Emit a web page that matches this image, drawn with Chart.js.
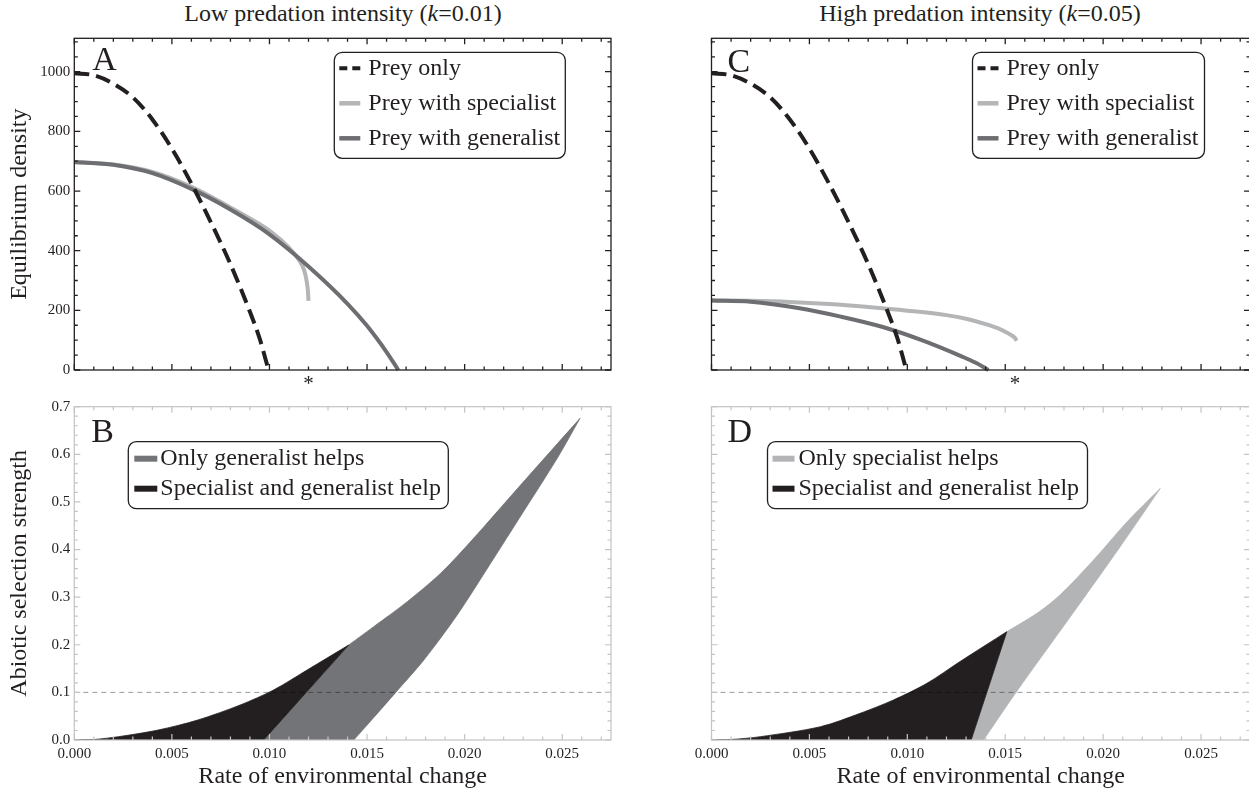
<!DOCTYPE html>
<html>
<head>
<meta charset="utf-8">
<script src="https://cdn.jsdelivr.net/npm/chart.js@4.4.1/dist/chart.umd.min.js"></script>
<style>
html, body { margin: 0; padding: 0; background: #fff; overflow: hidden; }
#page { position: relative; width: 1249px; height: 793px; }
.panel { position: absolute; }
.title { position: absolute; top: -2px; width: 400px; font: 24px 'Liberation Serif', serif; line-height: 30px; color: #231f20; text-align: center; white-space: nowrap; }
</style>
</head>
<body>
<div id="page">
  <div class="title" style="left:143px">Low predation intensity (<i>k</i>=0.01)</div>
  <div class="title" style="left:780px">High predation intensity (<i>k</i>=0.05)</div>
  <div class="panel" style="left:0;top:0;width:620px;height:390px"><canvas id="chartA"></canvas></div>
  <div class="panel" style="left:0;top:390px;width:620px;height:403px"><canvas id="chartB"></canvas></div>
  <div class="panel" style="left:620px;top:0;width:630px;height:390px"><canvas id="chartC"></canvas></div>
  <div class="panel" style="left:620px;top:390px;width:630px;height:403px"><canvas id="chartD"></canvas></div>
</div>
<script>
// Axes
const rateMax = 0.0275;
const densityMax = 1112;
const selectionMax = 0.7;
const rateTicks = [0, 0.005, 0.01, 0.015, 0.02, 0.025];
const densityTicks = [0, 200, 400, 600, 800, 1000];
const selectionTicks = [0, 0.1, 0.2, 0.3, 0.4, 0.5, 0.6, 0.7];
// rate marked with * under the top panels
const markedRateLow = 0.012;
const markedRateHigh = 0.0155;

// Equilibrium density, prey alone (same in A and C)
const preyOnlyRate    = [0, 0.001, 0.002, 0.003, 0.004, 0.005, 0.006, 0.007, 0.008, 0.009, 0.0095, 0.00995];
const preyOnlyDensity = [995, 988, 960, 914, 840, 742, 625, 495, 355, 195, 105, 0];

// A : k = 0.01
const genRateLow     = [0, 0.002, 0.004, 0.006, 0.008, 0.010, 0.012, 0.014, 0.015, 0.016, 0.0166];
const genDensityLow  = [697, 688, 660, 607, 538, 455, 347, 222, 148, 60, 0];
const specRateLow    = [0, 0.002, 0.004, 0.006, 0.008, 0.009, 0.010, 0.011, 0.0115, 0.0118, 0.0119, 0.01197, 0.012];
const specDensityLow = [697, 689, 664, 614, 545, 508, 467, 410, 370, 330, 300, 265, 232];

// C : k = 0.05
const genRateHigh     = [0, 0.002, 0.0045, 0.0066, 0.0087, 0.0107, 0.0128, 0.0135, 0.01414];
const genDensityHigh  = [233, 229, 207, 179, 145, 101, 45, 24, 0];
const specRateHigh    = [0, 0.002, 0.004, 0.006, 0.008, 0.010, 0.012, 0.013, 0.014, 0.0147, 0.0152, 0.0155, 0.01558];
const specDensityHigh = [234, 232, 228, 221, 211, 199, 184, 172, 154, 138, 121, 107, 98];

// B : outline edges of the two regions (rate / selection strength)
const upperRateLow    = [0, 0.001, 0.00227, 0.0043, 0.00633, 0.0085, 0.01021, 0.01193, 0.01406,
                         0.01534, 0.01706, 0.01877, 0.02047, 0.02219, 0.02405, 0.02591];
const upperSelLow     = [0, 0.001, 0.007, 0.021, 0.042, 0.0735, 0.105, 0.147, 0.1995,
                         0.238, 0.2905, 0.35, 0.424, 0.504, 0.59, 0.6755];
const dividerRateLow  = [0.01406, 0.0097];
const dividerSelLow   = [0.1995, 0];
const genLowerRateLow = [0.02591, 0.02475, 0.02296, 0.02133, 0.01962, 0.01791, 0.01646, 0.01534, 0.01432];
const genLowerSelLow  = [0.6755, 0.592, 0.476, 0.371, 0.2625, 0.168, 0.0994, 0.047, 0];
const bothBaseRateLow = [0.0097, 0];
const genBaseRateLow  = [0.01432, 0.0097];

// D : outline edges
const upperRateHigh     = [0, 0.001, 0.0025, 0.00557, 0.00759, 0.00929, 0.011, 0.0127, 0.01508,
                           0.01662, 0.01781, 0.01951, 0.02122, 0.02292];
const upperSelHigh      = [0, 0.001, 0.007, 0.028, 0.056, 0.084, 0.119, 0.165, 0.2275,
                           0.266, 0.305, 0.378, 0.458, 0.5285];
const dividerRateHigh   = [0.01508, 0.01326];
const dividerSelHigh    = [0.2275, 0];
const specLowerRateHigh = [0.02292, 0.02087, 0.01845, 0.01555, 0.01389];
const specLowerSelHigh  = [0.5285, 0.406, 0.266, 0.1, 0];
const bothBaseRateHigh  = [0.01326, 0];
const specBaseRateHigh  = [0.01389, 0.01326];

const baseSel = [0, 0];
const thresholdSel = 0.1;

// Colours
const INK = '#231f20';
const GEN = '#6d6e71';
const SPEC = '#b4b5b7';
const GEN_FILL = '#737477';
const SPEC_FILL = '#b3b4b6';
const FRAME_LIGHT = '#c4c4c4';
const SERIF = "'Liberation Serif', 'Times New Roman', serif";

const pts = (xs, ys) => xs.map((x, i) => ({x: x, y: ys[i]}));

// region outlines: edges joined end to start, corners stay sharp
const bothHelpLow = [
    ...pts(upperRateLow, upperSelLow).slice(0, 9),
    ...pts(dividerRateLow, dividerSelLow),
    ...pts(bothBaseRateLow, baseSel)
];
const genHelpLow = [
    ...pts(dividerRateLow, dividerSelLow).reverse(),
    ...pts(upperRateLow, upperSelLow).slice(8),
    ...pts(genLowerRateLow, genLowerSelLow),
    ...pts(genBaseRateLow, baseSel)
];
const bothHelpHigh = [
    ...pts(upperRateHigh, upperSelHigh).slice(0, 9),
    ...pts(dividerRateHigh, dividerSelHigh),
    ...pts(bothBaseRateHigh, baseSel)
];
const specHelpHigh = [
    ...pts(dividerRateHigh, dividerSelHigh).reverse(),
    ...pts(upperRateHigh, upperSelHigh).slice(8),
    ...pts(specLowerRateHigh, specLowerSelHigh),
    ...pts(specBaseRateHigh, baseSel)
];

// frame with inward ticks, like the original plots
const framePlugin = {
    id: 'frame',
    afterDatasetsDraw(chart, args, o) {
        const {ctx, chartArea: a, scales} = chart;
        const x = scales.x, y = scales.y;
        ctx.save();
        ctx.strokeStyle = o.color;
        ctx.lineWidth = o.width;
        ctx.beginPath();
        const nx = Math.round(x.max / o.xMinor);
        for (let i = 0; i <= nx; i++) {
            const px = x.getPixelForValue(i * o.xMinor);
            const len = i % o.xEvery === 0 ? o.major : o.minor;
            ctx.moveTo(px, a.bottom); ctx.lineTo(px, a.bottom - len);
            ctx.moveTo(px, a.top); ctx.lineTo(px, a.top + len);
        }
        const ny = Math.floor(y.max / o.yMinor + 1e-6);
        for (let i = 0; i <= ny; i++) {
            const py = y.getPixelForValue(i * o.yMinor);
            const len = i % o.yEvery === 0 ? o.major : o.minor;
            ctx.moveTo(a.left, py); ctx.lineTo(a.left + len, py);
            ctx.moveTo(a.right, py); ctx.lineTo(a.right - len, py);
        }
        ctx.stroke();
        ctx.strokeRect(a.left, a.top, a.right - a.left, a.bottom - a.top);
        ctx.restore();
    }
};

// panel letter and boxed legend
const decorPlugin = {
    id: 'decor',
    afterDraw(chart, args, o) {
        const {ctx, chartArea: a} = chart;
        ctx.save();
        ctx.fillStyle = INK;
        ctx.font = '34px ' + SERIF;
        ctx.textBaseline = 'alphabetic';
        ctx.fillText(o.letter, a.left + o.lx, a.top + o.ly);

        const bx = a.left + o.bx, by = a.top + o.by;
        ctx.beginPath();
        ctx.roundRect(bx, by, o.bw, o.bh, 8);
        ctx.fillStyle = '#fff';
        ctx.fill();
        ctx.lineWidth = 1.3;
        ctx.strokeStyle = INK;
        ctx.stroke();

        ctx.font = '24px ' + SERIF;
        ctx.textBaseline = 'middle';
        o.rows.forEach((r, i) => {
            const ry = by + o.ry0 + i * o.rowGap;
            ctx.beginPath();
            ctx.setLineDash(r.dash ? [8, 5] : []);
            ctx.lineWidth = r.lw;
            ctx.strokeStyle = r.color;
            ctx.moveTo(bx + o.sx0, ry);
            ctx.lineTo(bx + o.sx1, ry);
            ctx.stroke();
            ctx.setLineDash([]);
            ctx.fillStyle = INK;
            ctx.fillText(r.text, bx + o.tx, ry);
        });
        ctx.restore();
    }
};

function curve(data, color, extra) {
    return Object.assign({
        data: data, showLine: true, pointRadius: 0, borderColor: color,
        borderWidth: 4, fill: false, cubicInterpolationMode: 'monotone', clip: 5
    }, extra || {});
}

function area(data, color) {
    return {
        data: data, showLine: true, pointRadius: 0, tension: 0.3,
        borderColor: color, borderWidth: 0.8, backgroundColor: color, fill: 'shape'
    };
}

function thresholdLine() {
    return {
        data: pts([0, rateMax], [thresholdSel, thresholdSel]), showLine: true, pointRadius: 0,
        borderColor: 'rgba(0,0,0,0.4)', borderWidth: 1, borderDash: [5, 4], fill: false
    };
}

function makeChart(id, cfg) {
    const tickFont = {family: SERIF, size: 15};
    const xTicks = cfg.bottom ? rateTicks : [cfg.mark];
    return new Chart(document.getElementById(id), {
        type: 'scatter',
        data: {datasets: cfg.datasets},
        options: {
            responsive: true,
            maintainAspectRatio: false,
            animation: false,
            events: [],
            layout: {padding: cfg.padding},
            scales: {
                x: {
                    type: 'linear', min: 0, max: rateMax,
                    grid: {display: false, drawTicks: false}, border: {display: false},
                    afterBuildTicks: s => { s.ticks = xTicks.map(v => ({value: v})); },
                    afterFit: s => { s.height = cfg.xHeight; },
                    ticks: {
                        color: INK, font: cfg.bottom ? tickFont : {family: SERIF, size: 21},
                        padding: cfg.bottom ? 5 : 2, maxRotation: 0, autoSkip: false,
                        callback: v => cfg.bottom ? v.toFixed(3) : '*'
                    },
                    title: {
                        display: cfg.bottom, text: 'Rate of environmental change', color: INK,
                        font: {family: SERIF, size: 24, lineHeight: 1}, padding: {top: 0, bottom: 4}
                    }
                },
                y: {
                    type: 'linear', min: 0, max: cfg.yMax,
                    grid: {display: false, drawTicks: false}, border: {display: false},
                    afterBuildTicks: s => { s.ticks = cfg.yTicks.map(v => ({value: v})); },
                    afterFit: s => { s.width = cfg.yWidth; },
                    ticks: {
                        display: cfg.yLabels, color: INK, font: tickFont, padding: 4, autoSkip: false,
                        callback: v => cfg.yMax > 10 ? String(v) : v.toFixed(1)
                    },
                    title: {
                        display: !!cfg.yTitle, text: cfg.yTitle || '', color: INK,
                        font: {family: SERIF, size: 24, lineHeight: 1.2}, padding: {top: 5, bottom: 0}
                    }
                }
            },
            plugins: {
                legend: {display: false},
                tooltip: {enabled: false},
                frame: cfg.frame,
                decor: cfg.decor
            }
        },
        plugins: [framePlugin, decorPlugin]
    });
}

const topFrame = {color: INK, width: 1.3, xMinor: 0.001, xEvery: 5, yMinor: 50, yEvery: 4, major: 6, minor: 3.5};
const bottomFrame = {color: FRAME_LIGHT, width: 1.2, xMinor: 0.001, xEvery: 5, yMinor: 0.02, yEvery: 5, major: 6, minor: 3.5};

const densityRows = [
    {text: 'Prey only', color: INK, lw: 4, dash: true},
    {text: 'Prey with specialist', color: SPEC, lw: 4.5},
    {text: 'Prey with generalist', color: GEN, lw: 4.5}
];

// A
makeChart('chartA', {
    padding: {top: 38.3, right: 9, left: 0, bottom: 0},
    yWidth: 74.3, xHeight: 20, bottom: false, mark: markedRateLow,
    yMax: densityMax, yTicks: densityTicks, yLabels: true, yTitle: 'Equilibrium density',
    frame: topFrame,
    decor: {letter: 'A', lx: 18, ly: 32, bx: 260, by: 14, bw: 231, bh: 106,
            ry0: 16, rowGap: 35, sx0: 5, sx1: 26, tx: 34, rows: densityRows},
    datasets: [
        curve(pts(preyOnlyRate, preyOnlyDensity), INK, {borderDash: [15, 7]}),
        curve(pts(genRateLow, genDensityLow), GEN),
        curve(pts(specRateLow, specDensityLow), SPEC)
    ]
});

// B
makeChart('chartB', {
    padding: {top: 16.7, right: 9, left: 0, bottom: 0},
    yWidth: 74.3, xHeight: 53, bottom: true,
    yMax: selectionMax, yTicks: selectionTicks, yLabels: true, yTitle: 'Abiotic selection strength',
    frame: bottomFrame,
    decor: {letter: 'B', lx: 17, ly: 35, bx: 54, by: 35, bw: 320, bh: 67,
            ry0: 17, rowGap: 30, sx0: 6, sx1: 29, tx: 32,
            rows: [{text: 'Only generalist helps', color: GEN_FILL, lw: 6},
                   {text: 'Specialist and generalist help', color: INK, lw: 6}]},
    datasets: [
        thresholdLine(),
        area(bothHelpLow, INK),
        area(genHelpLow, GEN_FILL)
    ]
});

// C
makeChart('chartC', {
    padding: {top: 38.3, right: 0, left: 0, bottom: 0},
    yWidth: 91.5, xHeight: 20, bottom: false, mark: markedRateHigh,
    yMax: densityMax, yTicks: densityTicks, yLabels: false,
    frame: topFrame,
    decor: {letter: 'C', lx: 16, ly: 34, bx: 261, by: 14, bw: 232, bh: 106,
            ry0: 16, rowGap: 35, sx0: 5, sx1: 26, tx: 34, rows: densityRows},
    datasets: [
        curve(pts(preyOnlyRate, preyOnlyDensity), INK, {borderDash: [15, 7]}),
        curve(pts(genRateHigh, genDensityHigh), GEN),
        curve(pts(specRateHigh, specDensityHigh), SPEC)
    ]
});

// D
makeChart('chartD', {
    padding: {top: 16.7, right: 0, left: 0, bottom: 0},
    yWidth: 91.5, xHeight: 53, bottom: true,
    yMax: selectionMax, yTicks: selectionTicks, yLabels: false,
    frame: bottomFrame,
    decor: {letter: 'D', lx: 16, ly: 35, bx: 56, by: 35, bw: 320, bh: 67,
            ry0: 17, rowGap: 30, sx0: 5, sx1: 27, tx: 31,
            rows: [{text: 'Only specialist helps', color: SPEC_FILL, lw: 6},
                   {text: 'Specialist and generalist help', color: INK, lw: 6}]},
    datasets: [
        thresholdLine(),
        area(bothHelpHigh, INK),
        area(specHelpHigh, SPEC_FILL)
    ]
});
</script>
</body>
</html>
